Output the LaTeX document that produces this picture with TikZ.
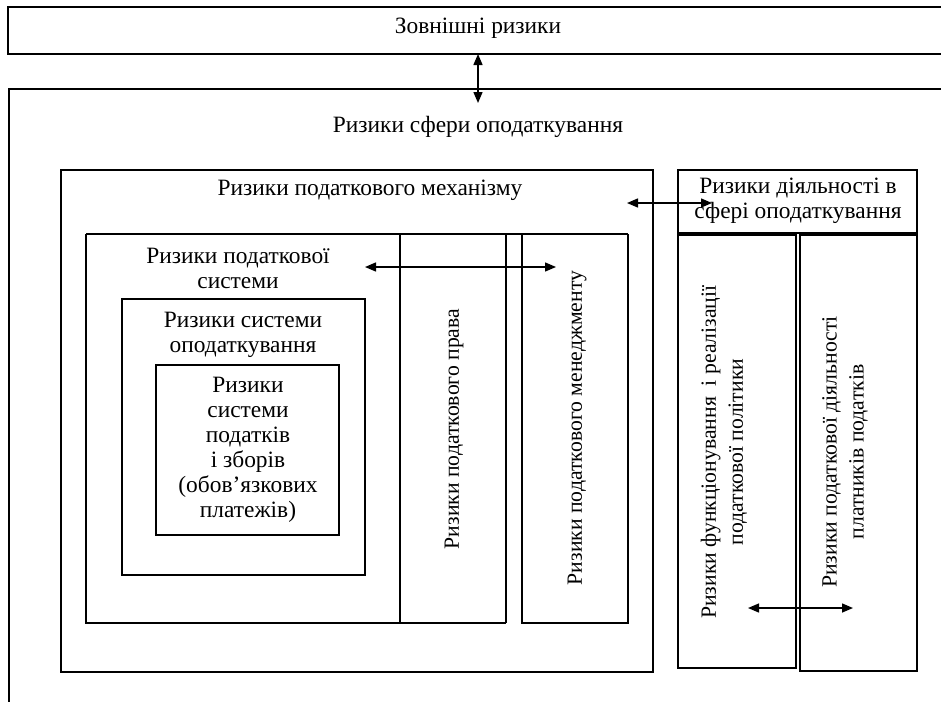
\documentclass[tikz,border=0pt]{standalone}
\usepackage{fontspec}
\setmainfont{Liberation Serif}
\usetikzlibrary{arrows.meta}
\begin{document}
\begin{tikzpicture}[x=1pt,y=-1pt,
  line width=1.1pt,
  lbl/.style={font=\fontsize{23.4}{25}\selectfont, align=center, inner sep=0pt},
  vlbl/.style={font=\fontsize{21.7}{27}\selectfont, align=center, inner sep=0pt, rotate=90},
  dbl/.style={{Triangle[length=11pt,width=9pt]}-{Triangle[length=11pt,width=9pt]}, line width=1.4pt}]
\useasboundingbox (0,0) rectangle (941,702);
% top (external) box, open on the right
\draw (941,7) -- (8,7) -- (8,54) -- (941,54);
\node[lbl] (ext) at (478,28) {Зовнішні ризики};
% outer sphere box, open on the right and bottom
\draw (941,89) -- (9,89) -- (9,702);
\node[lbl] (sphere) at (478,127) {Ризики сфери оподаткування};
\coordinate (a1) at (478,54);
\coordinate (a2) at (478,103);
\draw[dbl] (a1) -- (a2);
% mechanism
\draw (61,170) rectangle (653,672);
\node[lbl] (mech) at (370,190) {Ризики податкового механізму};
% activity
\draw (678,170) rectangle (917,233);
\node[lbl] (act) at (798,201) {Ризики діяльності в\\сфері оподаткування};
\coordinate (b1) at (627,203);
\coordinate (b2) at (712,203);
\draw[dbl] (b1) -- (b2);
% activity sub-boxes
\draw (678,235) rectangle (796,668);
\draw (800,235) rectangle (917,671);
\node[vlbl] (func) at (724,452) {Ризики функціонування~ і реалізації\\податкової політики};
\node[vlbl] (payer) at (845,452) {Ризики податкової діяльності\\платників податків};
\coordinate (c1) at (748,608);
\coordinate (c2) at (853,608);
\draw[dbl] (c1) -- (c2);
% tax system region
\draw (86,234) -- (628,234);
\draw (86,234) -- (86,623) -- (506,623);
\draw (400,234) -- (400,623);
\draw (506,234) -- (506,623);
\draw (522,234) -- (522,623) -- (628,623) -- (628,234);
\node[lbl] (sys) at (238,268) {Ризики податкової\\системи};
\node[vlbl] (law) at (454,429) {Ризики податкового права};
\node[vlbl] (mgmt) at (577,428) {Ризики податкового менеджменту};
\coordinate (d1) at (365,267);
\coordinate (d2) at (556,267);
\draw[dbl] (d1) -- (d2);
% taxation system
\draw (122,299) rectangle (365,575);
\node[lbl] (taxation) at (243,335) {Ризики системи\\оподаткування};
% taxes and fees
\draw (156,365) rectangle (339,535);
\node[lbl] (taxes) at (248,450) {Ризики\\системи\\податків\\і зборів\\(обов’язкових\\платежів)};
\end{tikzpicture}
\end{document}
